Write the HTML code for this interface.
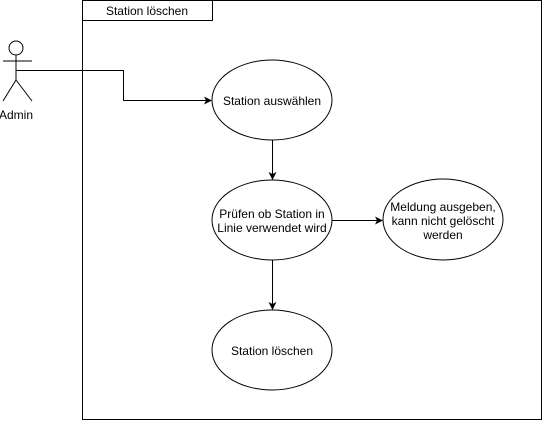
<!DOCTYPE html>
<html><head><meta charset="utf-8"><style>
html,body{margin:0;padding:0;background:#fff;}
svg{display:block;}
text{font-family:"Liberation Sans",sans-serif;font-size:12px;fill:#000;}
</style></head><body>
<svg width="543" height="421" viewBox="0 0 543 421" xmlns="http://www.w3.org/2000/svg">
<rect x="82.5" y="0.5" width="459" height="419" fill="#fff" stroke="#000"/>
<rect x="82.5" y="0.5" width="130" height="20" fill="#fff" stroke="#000"/>
<text x="147" y="15" text-anchor="middle">Station löschen</text>
<g stroke="#000" fill="none">
<circle cx="16" cy="48" r="7" fill="#fff"/>
<line x1="16" y1="55" x2="16" y2="80"/>
<line x1="3" y1="61" x2="32" y2="61"/>
<line x1="16" y1="80" x2="3" y2="101"/>
<line x1="16" y1="80" x2="32" y2="101"/>
<polyline points="16.5,70.5 123.5,70.5 123.5,100.5 206,100.5"/>
<line x1="272.5" y1="140" x2="272.5" y2="174"/>
<line x1="332" y1="220.5" x2="377" y2="220.5"/>
<line x1="272.5" y1="260" x2="272.5" y2="304"/>
<ellipse cx="272" cy="100" rx="60" ry="40" fill="#fff"/>
<ellipse cx="272" cy="220" rx="60" ry="40" fill="#fff"/>
<ellipse cx="443" cy="219.5" rx="60" ry="40.5" fill="#fff"/>
<ellipse cx="272" cy="350" rx="60" ry="40" fill="#fff"/>
</g>
<g fill="#000">
<polygon points="212,100.5 204,96.5 206,100.5 204,104.5"/>
<polygon points="272.5,180 268.5,172 272.5,174 276.5,172"/>
<polygon points="383,220.5 375,216.5 377,220.5 375,224.5"/>
<polygon points="272.5,310 268.5,302 272.5,304 276.5,302"/>
</g>
<text x="16" y="119" text-anchor="middle">Admin</text>
<text x="272" y="105" text-anchor="middle">Station auswählen</text>
<text x="272" y="218" text-anchor="middle">Prüfen ob Station in</text>
<text x="272" y="232" text-anchor="middle">Linie verwendet wird</text>
<text x="443" y="211" text-anchor="middle">Meldung ausgeben,</text>
<text x="443" y="225" text-anchor="middle">kann nicht gelöscht</text>
<text x="443" y="239" text-anchor="middle">werden</text>
<text x="272" y="355" text-anchor="middle">Station löschen</text>
</svg>
</body></html>
